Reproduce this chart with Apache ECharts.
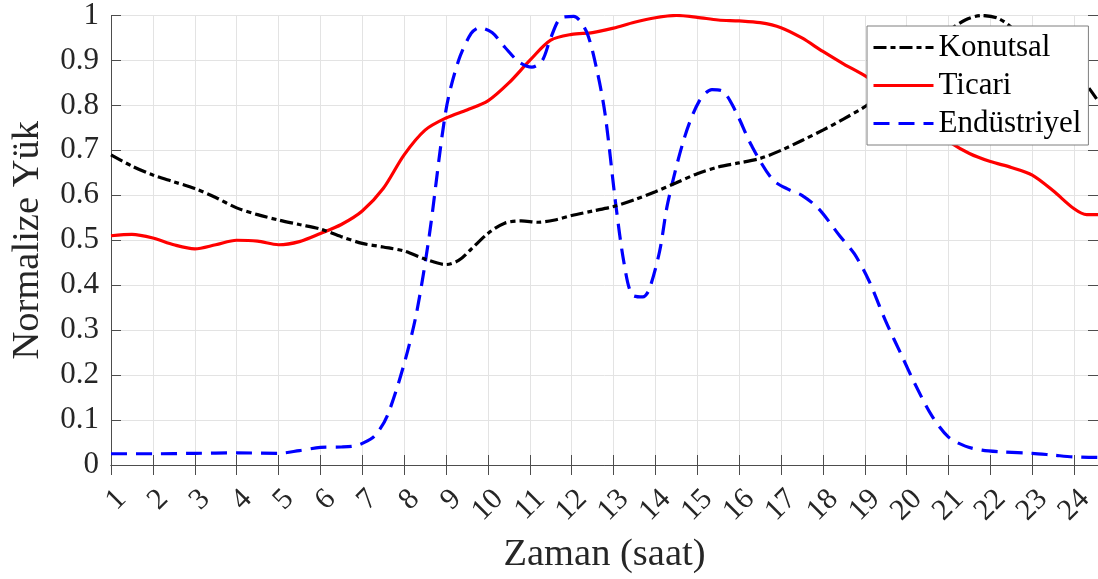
<!DOCTYPE html>
<html>
<head>
<meta charset="utf-8">
<script src="https://cdn.jsdelivr.net/npm/echarts@6/dist/echarts.min.js"></script>
<style>
  html, body { margin: 0; padding: 0; background: #fff; }
  #chart { width: 1098px; height: 579px; }
</style>
</head>
<body>
<div id="chart"></div>
<script>
// saat (x) ve normalize yuk (y) okumalari
var konutsalX = [1, 1.5, 2, 2.5, 3, 3.5, 4, 4.5, 5, 5.5, 6, 6.5, 7, 7.5, 8, 8.5, 9, 9.3, 9.6, 10, 10.4, 10.8, 11.2, 11.6, 12, 12.5, 13, 13.5, 14, 14.5, 15, 15.5, 16, 16.5, 17, 17.5, 18, 18.5, 19, 19.5, 20, 20.5, 21, 21.4, 21.8, 22.2, 22.6, 23, 23.5, 24, 24.3, 24.57];
var konutsalY = [0.69, 0.665, 0.645, 0.63, 0.615, 0.595, 0.572, 0.557, 0.545, 0.535, 0.525, 0.508, 0.493, 0.485, 0.476, 0.458, 0.446, 0.455, 0.48, 0.515, 0.538, 0.543, 0.54, 0.545, 0.555, 0.565, 0.575, 0.59, 0.608, 0.628, 0.648, 0.663, 0.672, 0.682, 0.7, 0.722, 0.745, 0.77, 0.797, 0.83, 0.87, 0.92, 0.965, 0.99, 1.0, 0.993, 0.967, 0.94, 0.91, 0.875, 0.845, 0.81];

var ticariX = [1, 1.5, 2, 2.5, 3, 3.5, 4, 4.5, 5, 5.5, 6, 6.5, 7, 7.5, 8, 8.5, 9, 9.5, 10, 10.5, 11, 11.5, 12, 12.5, 13, 13.5, 14, 14.5, 15, 15.5, 16, 16.5, 17, 17.5, 18, 18.5, 19, 19.5, 20, 20.5, 21, 21.5, 22, 22.5, 23, 23.5, 24, 24.3, 24.57];
var ticariY = [0.51, 0.513, 0.505, 0.49, 0.481, 0.49, 0.5, 0.498, 0.49, 0.497, 0.515, 0.535, 0.565, 0.615, 0.69, 0.745, 0.772, 0.79, 0.81, 0.85, 0.9, 0.945, 0.958, 0.962, 0.972, 0.985, 0.995, 1.0, 0.996, 0.99, 0.988, 0.984, 0.973, 0.95, 0.92, 0.892, 0.866, 0.835, 0.8, 0.755, 0.72, 0.693, 0.675, 0.662, 0.645, 0.61, 0.57, 0.557, 0.557];

var endustriyelX = [1, 2, 3, 4, 5, 5.5, 6, 6.5, 6.8, 7, 7.3, 7.6, 8, 8.3, 8.6, 9, 9.3, 9.6, 9.8, 10.1, 10.4, 10.75, 11.05, 11.3, 11.5, 11.75, 12.05, 12.35, 12.6, 12.8, 13.05, 13.25, 13.45, 13.7, 13.85, 14.1, 14.3, 14.7, 15.05, 15.35, 15.6, 15.9, 16.3, 16.8, 17.2, 17.5, 17.9, 18.4, 18.75, 19.1, 19.5, 19.9, 20.2, 20.6, 21, 21.4, 21.8, 22.3, 23, 23.5, 24, 24.57];
var endustriyelY = [0.025, 0.025, 0.026, 0.027, 0.026, 0.032, 0.039, 0.04, 0.042, 0.048, 0.065, 0.11, 0.225, 0.34, 0.51, 0.79, 0.9, 0.96, 0.973, 0.962, 0.93, 0.896, 0.885, 0.9, 0.95, 0.995, 0.998, 0.965, 0.88, 0.78, 0.583, 0.45, 0.378, 0.374, 0.39, 0.475, 0.585, 0.73, 0.81, 0.835, 0.832, 0.79, 0.71, 0.635, 0.612, 0.6, 0.57, 0.51, 0.47, 0.41, 0.32, 0.24, 0.18, 0.11, 0.062, 0.042, 0.033, 0.029, 0.026, 0.022, 0.018, 0.017];

var seriesNames = ['Konutsal', 'Ticari', 'Endüstriyel'];

function pairs(xs, ys) {
    var out = [];
    for (var i = 0; i < xs.length; i++) {
        out.push([xs[i], ys[i]]);
    }
    return out;
}

var font = '"Liberation Serif", "Times New Roman", serif';
var axisColor = '#4d4d4d';
var gridColor = '#e3e3e3';

var myChart = echarts.init(document.getElementById('chart'));
var option = {
    animation: false,
    backgroundColor: '#fff',
    grid: { left: 107, right: 0, top: 11, bottom: 114 },
    legend: {
        orient: 'vertical',
        left: 867,
        top: 26,
        data: seriesNames,
        backgroundColor: '#fff',
        borderColor: '#7f7f7f',
        borderWidth: 1,
        padding: [6, 7, 6, 5],
        itemWidth: 60,
        itemHeight: 31,
        itemGap: 7,
        itemStyle: { opacity: 0 },
        lineStyle: { width: 3 },
        textStyle: { fontFamily: font, fontSize: 31, color: '#000' }
    },
    xAxis: [
        {
            type: 'value',
            min: 1,
            max: 24.57,
            interval: 1,
            name: 'Zaman (saat)',
            nameLocation: 'middle',
            nameGap: 70,
            nameTextStyle: { fontFamily: font, fontSize: 38.5, color: '#262626' },
            axisLine: { show: true, lineStyle: { color: axisColor, width: 1 } },
            axisTick: { show: true, inside: true, length: 10, lineStyle: { color: axisColor } },
            axisLabel: {
                rotate: 45,
                margin: 19,
                verticalAlign: 'top',
                fontFamily: font,
                fontSize: 30,
                color: '#262626',
                showMaxLabel: false,
                formatter: function (v) { return Number.isInteger(v) ? String(v) : ''; }
            },
            splitLine: { show: true, lineStyle: { color: gridColor, width: 1 } }
        },
        {
            type: 'value',
            position: 'top',
            min: 1,
            max: 24.57,
            interval: 1,
            axisLine: { show: true, lineStyle: { color: axisColor, width: 1 } },
            axisTick: { show: true, inside: true, length: 10, lineStyle: { color: axisColor } },
            axisLabel: { show: false },
            splitLine: { show: false }
        }
    ],
    yAxis: [
        {
            type: 'value',
            min: 0,
            max: 1,
            interval: 0.1,
            name: 'Normalize Yük',
            nameLocation: 'middle',
            nameGap: 64,
            nameTextStyle: { fontFamily: font, fontSize: 38.5, color: '#262626' },
            axisLine: { show: true, lineStyle: { color: axisColor, width: 1 } },
            axisTick: { show: true, inside: true, length: 10, lineStyle: { color: axisColor } },
            axisLabel: { margin: 12, fontFamily: font, fontSize: 31, color: '#262626' },
            splitLine: { show: true, lineStyle: { color: gridColor, width: 1 } }
        },
        {
            type: 'value',
            position: 'right',
            min: 0,
            max: 1,
            interval: 0.1,
            axisLine: { show: false },
            axisTick: { show: true, inside: true, length: 10, lineStyle: { color: axisColor } },
            axisLabel: { show: false },
            splitLine: { show: false }
        }
    ],
    series: [
        {
            name: 'Konutsal',
            type: 'line',
            data: pairs(konutsalX, konutsalY),
            smooth: 0.3,
            symbol: 'none',
            z: 3,
            itemStyle: { color: '#000' },
            lineStyle: { color: '#000', width: 3.2, type: [13, 4, 5, 4] }
        },
        {
            name: 'Ticari',
            type: 'line',
            data: pairs(ticariX, ticariY),
            smooth: 0.3,
            symbol: 'none',
            z: 2,
            itemStyle: { color: '#ff0000' },
            lineStyle: { color: '#ff0000', width: 3.2 }
        },
        {
            name: 'Endüstriyel',
            type: 'line',
            data: pairs(endustriyelX, endustriyelY),
            smooth: 0.3,
            symbol: 'none',
            z: 2,
            itemStyle: { color: '#0000ff' },
            lineStyle: { color: '#0000ff', width: 3.2, type: [16, 9] }
        }
    ]
};
myChart.setOption(option);
window.addEventListener('resize', function () {
    myChart.resize();
}, false);
</script>
</body>
</html>
